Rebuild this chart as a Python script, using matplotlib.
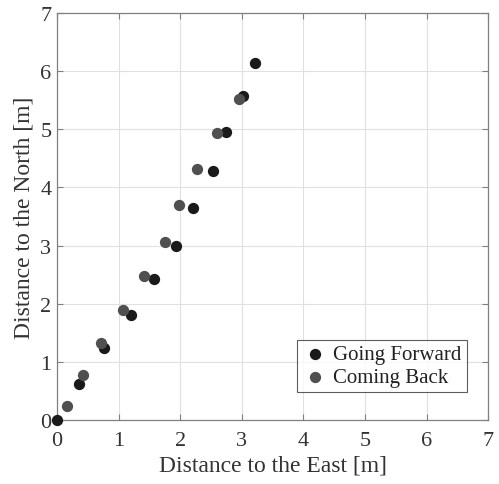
import matplotlib.pyplot as plt
import numpy as np

# dane [m]
fwd_east = [0.00, 0.36, 0.77, 1.20, 1.58, 1.94, 2.21, 2.53, 2.74, 3.02, 3.21]
fwd_north = [0.00, 0.62, 1.24, 1.81, 2.43, 3.00, 3.65, 4.28, 4.95, 5.57, 6.14]
back_east = [0.16, 0.42, 0.71, 1.07, 1.42, 1.75, 1.98, 2.28, 2.59, 2.96]
back_north = [0.24, 0.77, 1.33, 1.90, 2.48, 3.07, 3.70, 4.32, 4.94, 5.52]
ticks = list(range(0, 8))

plt.rcParams['font.family'] = ['Liberation Serif', 'DejaVu Serif']

fig = plt.figure(figsize=(4.99, 4.85), dpi=100)
ax = fig.add_axes([0.1142, 0.132, 0.864, 0.839])

ax.scatter(fwd_east, fwd_north, s=66, color="#1a1a1a", label="Going Forward",
           zorder=3, linewidths=0, clip_on=False)
ax.scatter(back_east, back_north, s=66, color="#505050", label="Coming Back",
           zorder=3, linewidths=0, clip_on=False)

ax.set_xlim(0, 7)
ax.set_ylim(0, 7)
ax.set_xticks(ticks)
ax.set_yticks(ticks)
ax.tick_params(direction="in", top=True, right=True, labelsize=16,
               colors="#808080", labelcolor="#333333", length=4, width=0.8)
ax.tick_params(axis="x", pad=8)
ax.tick_params(axis="y", pad=4)
for sp in ax.spines.values():
    sp.set_color("#808080")
    sp.set_linewidth(0.9)
ax.grid(True, color="#e0e0e0", linewidth=0.8)
ax.set_axisbelow(True)

ax.set_xlabel("Distance to the East [m]", fontsize=17, color="#333333", labelpad=3)
ax.set_ylabel("Distance to the North [m]", fontsize=17, color="#333333", labelpad=4)

leg = ax.legend(loc="lower right", bbox_to_anchor=(0.951, 0.068), borderaxespad=0,
                fontsize=15, frameon=True, fancybox=False, handletextpad=0.3,
                borderpad=0.25, labelspacing=0.15, handlelength=1.2)
leg.get_frame().set_edgecolor("#333333")
leg.get_frame().set_linewidth(0.8)
for t in leg.get_texts():
    t.set_color("#222222")

fig.savefig("out.png", dpi=100)
